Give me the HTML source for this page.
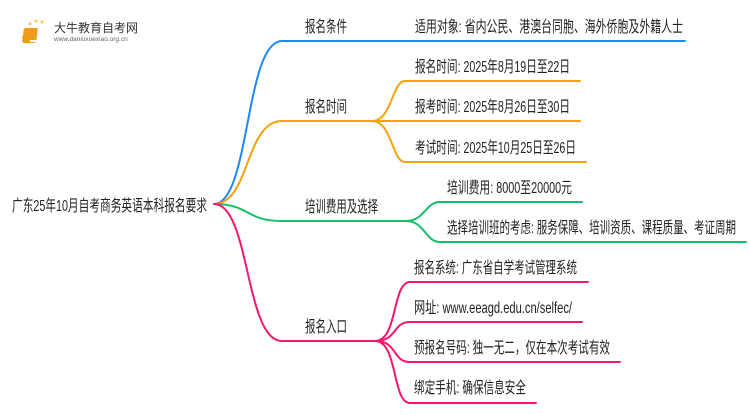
<!DOCTYPE html>
<html><head><meta charset="utf-8"><style>
body{margin:0;background:#fff;width:750px;height:410px;overflow:hidden}
svg text{font-family:"Liberation Sans","Noto Sans CJK SC",sans-serif;fill:#222}
</style></head><body>
<svg width="750" height="410" viewBox="0 0 750 410" xmlns="http://www.w3.org/2000/svg">
<g fill="none" stroke-width="2" stroke-linecap="round">
<path d="M214 204 C250 204 245 41 282 41 L685 41" stroke="#1e88f5"/>
<path d="M214 204 C250 204 245 121 282 121 L372 121" stroke="#f2a20c"/>
<path d="M372 121 C392 121 392 81 405 81 L580 81" stroke="#f2a20c"/>
<path d="M372 121 L580 121" stroke="#f2a20c"/>
<path d="M372 121 C392 121 392 162 405 162 L586 162" stroke="#f2a20c"/>
<path d="M214 204 C250 204 245 221 282 221 L406 221" stroke="#16c06a"/>
<path d="M406 221 C425 221 425 202 440 202 L582 202" stroke="#16c06a"/>
<path d="M406 221 C425 221 425 242 440 242 L746 242" stroke="#16c06a"/>
<path d="M214 204 C250 204 245 341 282 341 L375 341" stroke="#f5166f"/>
<path d="M375 341 C398 341 392 282 410 282 L588 282" stroke="#f5166f"/>
<path d="M375 341 C398 341 392 322 410 322 L582 322" stroke="#f5166f"/>
<path d="M375 341 C398 341 392 362 410 362 L620 362" stroke="#f5166f"/>
<path d="M375 341 C398 341 392 403 410 403 L536 403" stroke="#f5166f"/>
</g>
<g font-size="16">
<text x="12" y="211" textLength="195" lengthAdjust="spacingAndGlyphs">广东25年10月自考商务英语本科报名要求</text>
<text x="305" y="32" textLength="42" lengthAdjust="spacingAndGlyphs">报名条件</text>
<text x="305" y="112" textLength="42" lengthAdjust="spacingAndGlyphs">报名时间</text>
<text x="305" y="212" textLength="73" lengthAdjust="spacingAndGlyphs">培训费用及选择</text>
<text x="305" y="332" textLength="42" lengthAdjust="spacingAndGlyphs">报名入口</text>
<text x="415" y="32" textLength="268" lengthAdjust="spacingAndGlyphs">适用对象: 省内公民、港澳台同胞、海外侨胞及外籍人士</text>
<text x="415" y="72" textLength="155" lengthAdjust="spacingAndGlyphs">报名时间: 2025年8月19日至22日</text>
<text x="415" y="112" textLength="155" lengthAdjust="spacingAndGlyphs">报考时间: 2025年8月26日至30日</text>
<text x="415" y="153" textLength="161" lengthAdjust="spacingAndGlyphs">考试时间: 2025年10月25日至26日</text>
<text x="447" y="193" textLength="125" lengthAdjust="spacingAndGlyphs">培训费用: 8000至20000元</text>
<text x="447" y="233" textLength="289" lengthAdjust="spacingAndGlyphs">选择培训班的考虑: 服务保障、培训资质、课程质量、考证周期</text>
<text x="414" y="273" textLength="163" lengthAdjust="spacingAndGlyphs">报名系统: 广东省自学考试管理系统</text>
<text x="414" y="313" textLength="158" lengthAdjust="spacingAndGlyphs">网址: www.eeagd.edu.cn/selfec/</text>
<text x="414" y="353" textLength="196" lengthAdjust="spacingAndGlyphs">预报名号码: 独一无二，仅在本次考试有效</text>
<text x="414" y="393" textLength="112" lengthAdjust="spacingAndGlyphs">绑定手机: 确保信息安全</text>
</g>
<g>
<circle cx="25" cy="30" r="1.5" fill="#f8c860"/><circle cx="30" cy="24" r="1.5" fill="#f8c860"/><circle cx="36" cy="21" r="1.5" fill="#f8c860"/><circle cx="42" cy="22" r="1.5" fill="#f8c860"/><circle cx="23" cy="37" r="1.3" fill="#f8c860"/>
<rect x="28" y="28" width="14" height="15" rx="2" fill="#f29a1c" transform="skewX(-8)"/>
<rect x="30" y="40" width="12" height="2" fill="#fff"/>
<text x="54" y="32" font-size="12" style="fill:#333">大牛教育自考网</text>
<text x="54" y="41" font-size="6.5" style="fill:#666">www.daniuxuexiao.org.cn</text>
</g>
</svg>
</body></html>
